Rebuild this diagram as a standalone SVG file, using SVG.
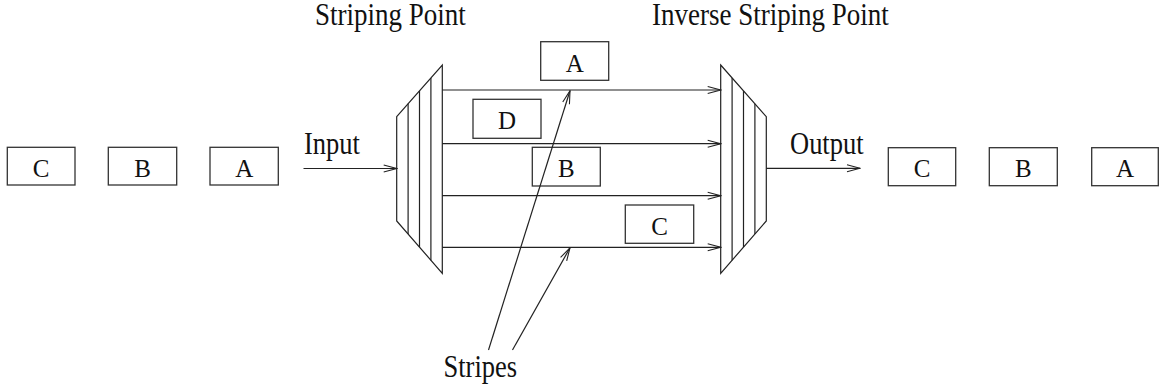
<svg xmlns="http://www.w3.org/2000/svg" width="1159" height="387" viewBox="0 0 1159 387">
<style>
.bx{fill:none;stroke:#333;stroke-width:1.3}
.ln{fill:none;stroke:#222;stroke-width:1.2}
.bt{font-family:"Liberation Serif","Times New Roman",serif;font-size:25px;fill:#111;text-anchor:middle}
.lb{font-family:"Liberation Serif","Times New Roman",serif;font-size:26.5px;fill:#111}
.tt{font-family:"Liberation Serif","Times New Roman",serif;font-size:27px;fill:#111}
</style>
<defs>
<marker id="ah" viewBox="-14 -5 15 10" markerWidth="15" markerHeight="10" refX="0" refY="0" orient="auto" markerUnits="userSpaceOnUse">
<path d="M-13,-3.5 L0,0 L-13,3.5" fill="none" stroke="#222" stroke-width="1.1"/>
</marker>
</defs>
<rect width="1159" height="387" fill="#fff"/>
<g id="labels">
<g transform="translate(315,25) scale(1,1.16)"><text class="tt" x="0" y="0">Striping Point</text></g>
<g transform="translate(652,25) scale(1,1.16)"><text class="tt" x="0" y="0">Inverse Striping Point</text></g>
<g transform="translate(304,154.3) scale(1,1.18)"><text class="lb" x="0" y="0">Input</text></g>
<g transform="translate(790,153.5) scale(1,1.18)"><text class="lb" x="0" y="0">Output</text></g>
<g transform="translate(443.5,376.7) scale(1,1.18)"><text class="lb" x="0" y="0">Stripes</text></g>
</g>
<g id="striping-point">
<path class="ln" d="M396.7,116.7 L442.3,65 L442.3,273.3 L396.7,221 Z"/>
<path class="ln" d="M408.1,103.8 V233.9 M419.5,90.9 V247.1 M430.9,77.9 V260.2"/>
</g>
<g id="inverse-striping-point">
<path class="ln" d="M720.7,65 L766.3,116.7 L766.3,221 L720.7,273.3 Z"/>
<path class="ln" d="M732.1,77.9 V260.2 M743.5,90.9 V247.1 M754.9,103.8 V233.9"/>
</g>
<g id="in-C"><rect class="bx" x="7.3" y="147.3" width="67.7" height="37.7"/><text class="bt" x="41.2" y="176.7">C</text></g>
<g id="in-B"><rect class="bx" x="108.3" y="147.3" width="68.4" height="37.7"/><text class="bt" x="142.5" y="176.7">B</text></g>
<g id="in-A"><rect class="bx" x="210" y="147.3" width="68.3" height="37.7"/><text class="bt" x="244.2" y="176.7">A</text></g>
<g id="out-C"><rect class="bx" x="888.3" y="147.7" width="67.4" height="38"/><text class="bt" x="922" y="177">C</text></g>
<g id="out-B"><rect class="bx" x="989.3" y="147.7" width="68" height="38"/><text class="bt" x="1023.3" y="177">B</text></g>
<g id="out-A"><rect class="bx" x="1091.7" y="147.7" width="66.6" height="38"/><text class="bt" x="1125" y="177">A</text></g>
<g id="stripe-A"><rect class="bx" x="540.7" y="41.7" width="68" height="38.6"/><text class="bt" x="574.7" y="71.7">A</text></g>
<g id="stripe-D"><rect class="bx" x="473" y="99.3" width="68" height="39"/><text class="bt" x="507" y="129.3">D</text></g>
<g id="stripe-B"><rect class="bx" x="532.3" y="147.3" width="68" height="38.7"/><text class="bt" x="566.3" y="177.2">B</text></g>
<g id="stripe-C"><rect class="bx" x="625.3" y="205" width="68.4" height="38.3"/><text class="bt" x="659.5" y="234.7">C</text></g>
<g id="connectors">
<line class="ln" x1="303.5" y1="168.5" x2="396.7" y2="168.5" marker-end="url(#ah)"/>
<line class="ln" x1="766.3" y1="168.3" x2="860" y2="168.3" marker-end="url(#ah)"/>
<line class="ln" x1="442.3" y1="90" x2="720.7" y2="90" marker-end="url(#ah)"/>
<line class="ln" x1="442.3" y1="143.7" x2="720.7" y2="143.7" marker-end="url(#ah)"/>
<line class="ln" x1="442.3" y1="195.7" x2="720.7" y2="195.7" marker-end="url(#ah)"/>
<line class="ln" x1="442.3" y1="247.3" x2="720.7" y2="247.3" marker-end="url(#ah)"/>
<line class="ln" x1="488.5" y1="350" x2="570" y2="90.7" marker-end="url(#ah)"/>
<line class="ln" x1="512.5" y1="350" x2="570" y2="247.8" marker-end="url(#ah)"/>
</g>
</svg>
